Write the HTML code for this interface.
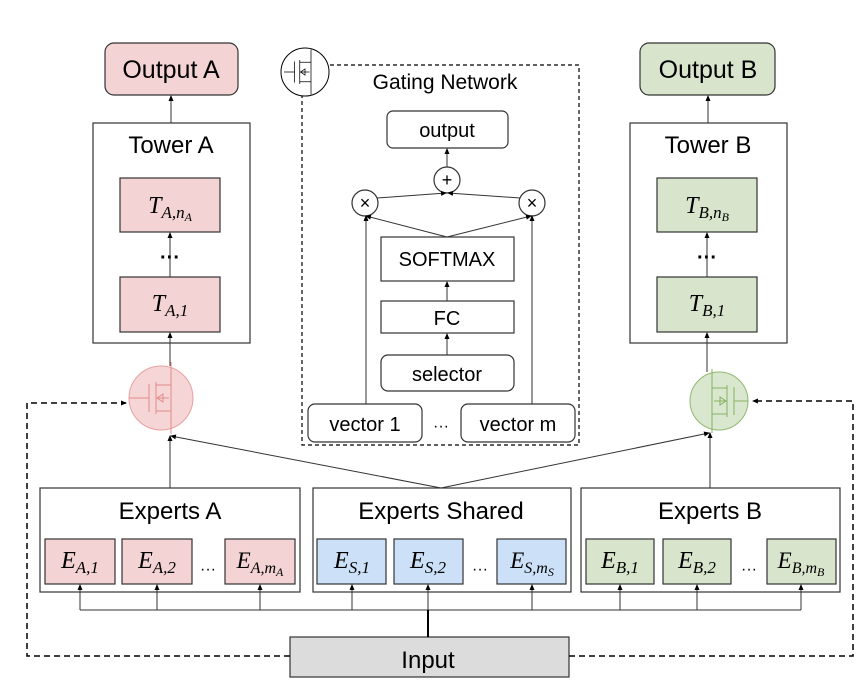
<!DOCTYPE html>
<html><head><meta charset="utf-8"><style>
html,body{margin:0;padding:0;background:#fff;}
svg{display:block;}
text{font-family:"Liberation Sans","DejaVu Sans",sans-serif;fill:#000;}
.m{font-family:"Liberation Serif",serif;font-style:italic;}
</style></head><body>
<svg width="868" height="692" viewBox="0 0 868 692" xmlns="http://www.w3.org/2000/svg">
<defs>
<marker id="a" markerWidth="6" markerHeight="6" refX="5" refY="3" orient="auto" markerUnits="userSpaceOnUse"><path d="M0,0.5 L6,3 L0,5.5z" fill="#000"/></marker>
</defs>
<g stroke="#333" stroke-width="1.2" fill="none">
<rect x="105" y="43" width="133" height="52" rx="9" fill="#f3d3d3"/>
<rect x="640" y="43" width="135" height="52" rx="9" fill="#d8e4cb"/>
<rect x="93" y="123" width="157" height="220" fill="#fff"/>
<rect x="630" y="123" width="157" height="220" fill="#fff"/>
<rect x="120" y="178" width="100" height="54" fill="#f3d3d3"/>
<rect x="120" y="277" width="100" height="55" fill="#f3d3d3"/>
<rect x="657" y="178" width="100" height="54" fill="#d8e4cb"/>
<rect x="657" y="277" width="100" height="55" fill="#d8e4cb"/>
<rect x="40" y="488" width="260" height="104" fill="#fff"/>
<rect x="313" y="488" width="258" height="104" fill="#fff"/>
<rect x="581" y="488" width="259" height="104" fill="#fff"/>
<rect x="45" y="539" width="70" height="45" fill="#f3d3d3"/>
<rect x="122" y="539" width="70" height="45" fill="#f3d3d3"/>
<rect x="225" y="539" width="70" height="45" fill="#f3d3d3"/>
<rect x="317" y="539" width="69" height="45" fill="#cce0f7"/>
<rect x="394" y="539" width="69" height="45" fill="#cce0f7"/>
<rect x="497" y="539" width="69" height="45" fill="#cce0f7"/>
<rect x="586" y="539" width="68" height="45" fill="#d8e4cb"/>
<rect x="663" y="539" width="68" height="45" fill="#d8e4cb"/>
<rect x="767" y="539" width="69" height="45" fill="#d8e4cb"/>
<rect x="290" y="637" width="279" height="40" fill="#dcdcdc"/>
<rect x="302" y="65" width="277" height="380" stroke="#000" stroke-dasharray="4,3"/>
<rect x="387" y="111" width="121" height="37" rx="6"/>
<rect x="381" y="237" width="133" height="44"/>
<rect x="381" y="301" width="133" height="32"/>
<rect x="381" y="355" width="133" height="36" rx="7"/>
<rect x="308" y="404" width="114" height="38" rx="7"/>
<rect x="461" y="404" width="114" height="38" rx="7"/>
<circle cx="447" cy="180" r="13" fill="#fff"/>
<circle cx="365" cy="203" r="13" fill="#fff"/>
<circle cx="532" cy="203" r="13" fill="#fff"/>
</g>
<circle cx="305" cy="72" r="24" fill="#fff" stroke="#000" stroke-width="1"/>
<circle cx="161" cy="398" r="32" fill="#f5d5d5" stroke="#e9a0a0" stroke-width="1"/>
<circle cx="719" cy="401" r="29" fill="#dae7cf" stroke="#8fb870" stroke-width="1"/>
<g fill="none" stroke-width="1">
<g stroke="#000" transform="translate(305,72) scale(0.75)">
<path d="M-28,0 H-14 M-14,-14 V14 M-7,-16 V16 M-7,-13 H8 V-30 M-7,13 H8 V30 M8,-13 V13 M-6,0 H6 M-6,0 L0,-4 V4z"/>
</g>
<g stroke="#e48a8a" transform="translate(163,398)">
<path d="M-34,0 H-14 M-14,-14 V14 M-7,-16 V16 M-7,-13 H8 V-36 M-7,13 H8 V36 M8,-13 V13 M-6,0 H6 M-6,0 L0,-4 V4z"/>
</g>
<g stroke="#86b060" transform="translate(720,401) scale(-1,1)">
<path d="M-28,0 H-14 M-14,-14 V14 M-7,-16 V16 M-7,-13 H8 V-32 M-7,13 H8 V32 M8,-13 V13 M-6,0 H6 M-6,0 L0,-4 V4z"/>
</g>
</g>
<g stroke="#333" stroke-width="1" fill="none" marker-end="url(#a)">
<line x1="171" y1="123" x2="171" y2="96"/>
<line x1="708" y1="123" x2="708" y2="96"/>
<line x1="170" y1="277" x2="170" y2="233"/>
<line x1="707" y1="277" x2="707" y2="233"/>
<line x1="170" y1="366" x2="170" y2="333"/>
<line x1="707" y1="372" x2="707" y2="333"/>
<line x1="170" y1="488" x2="170" y2="436"/>
<line x1="710" y1="488" x2="710" y2="433"/>
<line x1="441" y1="488" x2="171" y2="436"/>
<line x1="441" y1="488" x2="709" y2="433"/>
<line x1="447" y1="167" x2="447" y2="149"/>
<line x1="377" y1="198" x2="446" y2="193"/>
<line x1="520" y1="198" x2="448" y2="193"/>
<line x1="447" y1="237" x2="366" y2="216"/>
<line x1="447" y1="237" x2="531" y2="216"/>
<line x1="447" y1="301" x2="447" y2="282"/>
<line x1="447" y1="355" x2="447" y2="334"/>
<line x1="366" y1="404" x2="366" y2="216"/>
<line x1="532" y1="404" x2="532" y2="216"/>
<line x1="80" y1="610" x2="80" y2="585"/>
<line x1="157" y1="610" x2="157" y2="585"/>
<line x1="260" y1="610" x2="260" y2="585"/>
<line x1="352" y1="610" x2="352" y2="585"/>
<line x1="428" y1="610" x2="428" y2="585"/>
<line x1="532" y1="610" x2="532" y2="585"/>
<line x1="620" y1="610" x2="620" y2="585"/>
<line x1="697" y1="610" x2="697" y2="585"/>
<line x1="801" y1="610" x2="801" y2="585"/>
</g>
<line x1="80" y1="610" x2="801" y2="610" stroke="#333" stroke-width="1"/>
<line x1="428" y1="610" x2="428" y2="637" stroke="#000" stroke-width="2"/>
<g stroke="#000" stroke-width="1.5" fill="none" stroke-dasharray="6,4">
<path d="M290,656 H27 V403 H126" marker-end="url(#a)"/>
<path d="M569,656 H853 V401 H753" marker-end="url(#a)"/>
</g>
<g text-anchor="middle">
<text x="171" y="78" font-size="25">Output A</text>
<text x="708" y="78" font-size="25">Output B</text>
<text x="171" y="153" font-size="24">Tower A</text>
<text x="708" y="153" font-size="24">Tower B</text>
<text x="170" y="264" font-size="20" font-weight="bold">···</text>
<text x="707" y="264" font-size="20" font-weight="bold">···</text>
<text x="170" y="519" font-size="24">Experts A</text>
<text x="441" y="519" font-size="24">Experts Shared</text>
<text x="710" y="519" font-size="24">Experts B</text>
<text x="428" y="668" font-size="24">Input</text>
<text x="445" y="89" font-size="21">Gating Network</text>
<text x="447" y="137" font-size="20">output</text>
<text x="447" y="266" font-size="20">SOFTMAX</text>
<text x="447" y="325" font-size="20">FC</text>
<text x="447" y="381" font-size="20">selector</text>
<text x="365" y="431" font-size="20">vector 1</text>
<text x="518" y="431" font-size="20">vector m</text>
<text x="441" y="431" font-size="16">···</text>
<text x="447" y="186" font-size="18">+</text>
<text x="365" y="209" font-size="18">×</text>
<text x="532" y="209" font-size="18">×</text>
<text x="208" y="574" font-size="16">···</text>
<text x="480" y="574" font-size="16">···</text>
<text x="749" y="574" font-size="16">···</text>
</g>
<g class="m" text-anchor="middle">
<text x="170" y="213" font-size="24" class="m">T<tspan font-size="17" dy="5">A,n</tspan><tspan font-size="12" dy="3">A</tspan></text>
<text x="170" y="311" font-size="24" class="m">T<tspan font-size="17" dy="5">A,1</tspan></text>
<text x="707" y="213" font-size="24" class="m">T<tspan font-size="17" dy="5">B,n</tspan><tspan font-size="12" dy="3">B</tspan></text>
<text x="707" y="311" font-size="24" class="m">T<tspan font-size="17" dy="5">B,1</tspan></text>
<text x="80" y="568" font-size="24" class="m">E<tspan font-size="17" dy="5">A,1</tspan></text>
<text x="157" y="568" font-size="24" class="m">E<tspan font-size="17" dy="5">A,2</tspan></text>
<text x="260" y="568" font-size="23" class="m">E<tspan font-size="16" dy="5">A,m</tspan><tspan font-size="12" dy="3">A</tspan></text>
<text x="352" y="568" font-size="24" class="m">E<tspan font-size="17" dy="5">S,1</tspan></text>
<text x="428" y="568" font-size="24" class="m">E<tspan font-size="17" dy="5">S,2</tspan></text>
<text x="532" y="568" font-size="23" class="m">E<tspan font-size="16" dy="5">S,m</tspan><tspan font-size="12" dy="3">S</tspan></text>
<text x="620" y="568" font-size="24" class="m">E<tspan font-size="17" dy="5">B,1</tspan></text>
<text x="697" y="568" font-size="24" class="m">E<tspan font-size="17" dy="5">B,2</tspan></text>
<text x="801" y="568" font-size="23" class="m">E<tspan font-size="16" dy="5">B,m</tspan><tspan font-size="12" dy="3">B</tspan></text>
</g>
</svg>
</body></html>
